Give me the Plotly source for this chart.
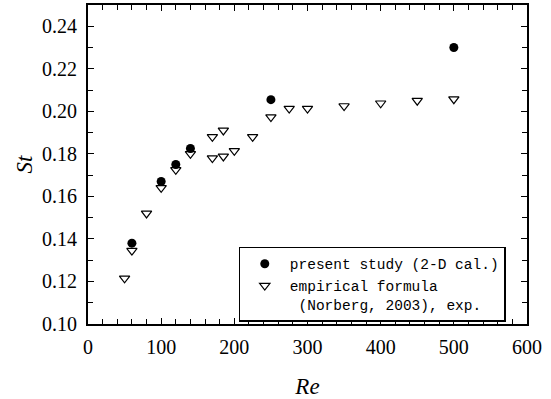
import plotly.graph_objects as go

# present study (2-D calculation)
re_calc = [60, 100, 120, 140, 250, 500]
st_calc = [0.138, 0.167, 0.175, 0.1825, 0.2055, 0.230]

# empirical formula (Norberg, 2003), exp.
re_exp = [50, 60, 80, 100, 120, 140, 170, 170, 185, 185, 200, 225, 250, 275, 300, 350, 400, 450, 500]
st_exp = [0.1215, 0.1345, 0.152, 0.164, 0.1725, 0.180, 0.178, 0.188, 0.1788, 0.191, 0.1814, 0.188,
          0.1973, 0.2013, 0.2013, 0.2025, 0.2038, 0.205, 0.2057]

x_ticks = [0, 100, 200, 300, 400, 500, 600]
y_ticks = [0.10, 0.12, 0.14, 0.16, 0.18, 0.20, 0.22, 0.24]

serif = "Liberation Serif"

fig = go.Figure()
fig.add_trace(go.Scatter(
    x=re_calc, y=st_calc, mode="markers", name="present study (2-D cal.)",
    marker=dict(symbol="circle", size=9, color="black"),
))
fig.add_trace(go.Scatter(
    x=re_exp, y=st_exp, mode="markers",
    name="empirical formula<br>\u00a0(Norberg, 2003), exp.",
    marker=dict(symbol="triangle-down-open", size=9, color="black", line=dict(width=1.2)),
))

axis_common = dict(
    showline=True, linecolor="black", linewidth=1.8, mirror="allticks",
    ticks="inside", ticklen=6, tickwidth=1.2, tickcolor="black",
    showgrid=False, zeroline=False, automargin=False,
    tickfont=dict(family=serif, size=20, color="black"),
)

fig.update_xaxes(
    range=[0, 600], tickvals=x_ticks, ticktext=[str(v) for v in x_ticks],
    minor=dict(ticks="inside", dtick=20, tick0=0, ticklen=5, tickwidth=1, tickcolor="black"),
    title=dict(text="<i>Re</i>", font=dict(family=serif, size=23, color="black"), standoff=22),
    ticklabelstandoff=4,
    **axis_common,
)
fig.update_yaxes(
    range=[0.10, 0.25], tickvals=y_ticks, ticktext=[f"{v:.2f}" for v in y_ticks],
    minor=dict(ticks="inside", dtick=0.01, tick0=0.10, ticklen=5, tickwidth=1, tickcolor="black"),
    title=dict(text="<i>St</i>", font=dict(family=serif, size=23, color="black"), standoff=3),
    ticklabelstandoff=5,
    **axis_common,
)

fig.update_layout(
    width=551, height=399,
    margin=dict(l=88, r=24, t=5, b=75),
    plot_bgcolor="white", paper_bgcolor="white",
    legend=dict(
        x=0.343, y=0.2425, xanchor="left", yanchor="top",
        bgcolor="white", bordercolor="black", borderwidth=1.2,
        font=dict(family="Liberation Mono", size=14.5, color="black"),
        valign="top", tracegroupgap=0, itemwidth=40,
    ),
    showlegend=True,
)

fig.write_html("out.html", post_script="document.body.style.margin='0';",
               config={"displayModeBar": False})
